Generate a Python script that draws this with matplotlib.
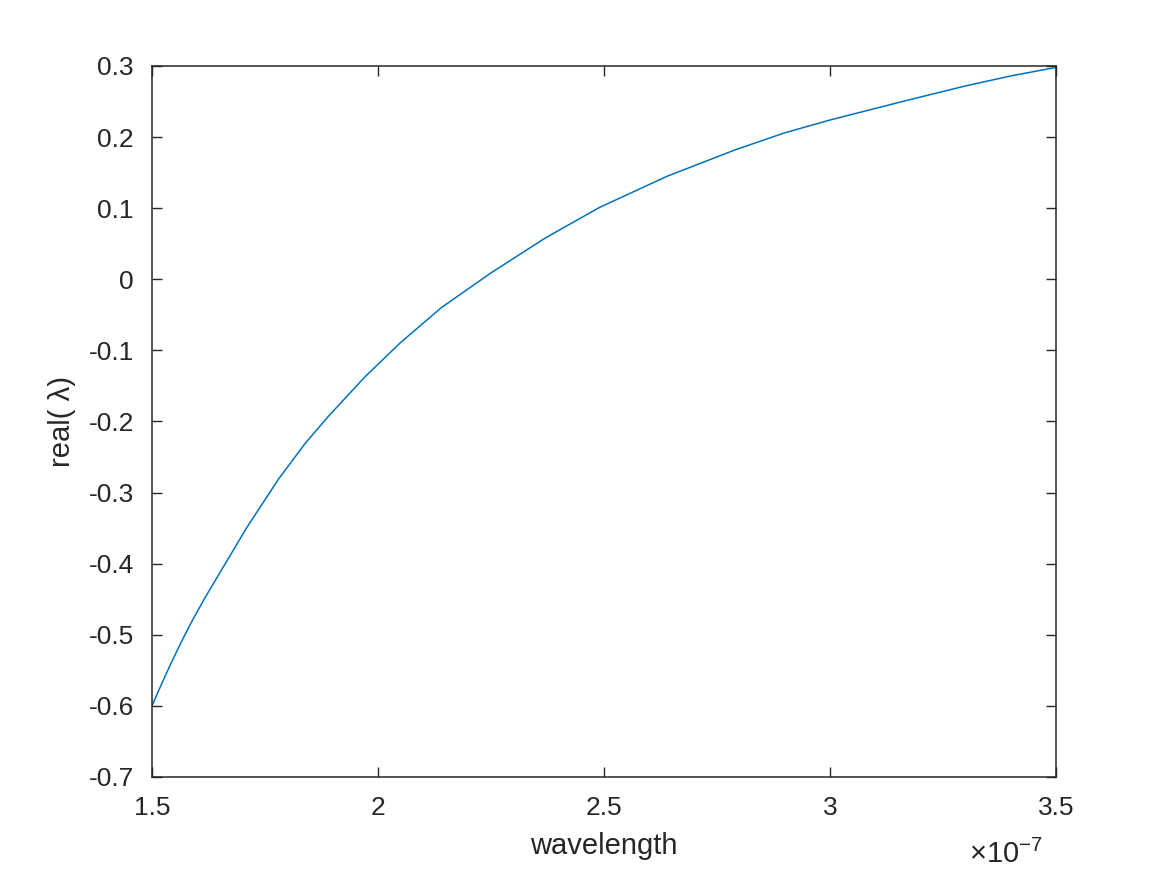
import matplotlib
matplotlib.use("Agg")
import matplotlib.pyplot as plt
from matplotlib.ticker import FuncFormatter, FixedLocator

plt.rcParams['font.family'] = ['Liberation Sans', 'DejaVu Sans']
plt.rcParams['mathtext.fontset'] = 'custom'
plt.rcParams['mathtext.rm'] = 'Liberation Sans'

# data (wavelength in units of 1e-7 m)
wavelength_e7 = [1.50, 1.52, 1.54, 1.565, 1.59, 1.62, 1.65, 1.71, 1.78, 1.84, 1.89, 1.97,
                 2.05, 2.14, 2.25, 2.37, 2.49, 2.64, 2.79, 2.90, 3.00, 3.16, 3.30, 3.40, 3.50]
real_lambda = [-0.600, -0.571, -0.543, -0.510, -0.479, -0.445, -0.413, -0.349, -0.281,
               -0.230, -0.193, -0.138, -0.089, -0.040, 0.009, 0.058, 0.101, 0.145, 0.182,
               0.206, 0.224, 0.250, 0.272, 0.286, 0.298]
xticks_e7 = [1.5, 2, 2.5, 3, 3.5]
yticks = [-0.7, -0.6, -0.5, -0.4, -0.3, -0.2, -0.1, 0, 0.1, 0.2, 0.3]

wl = [v * 1e-7 for v in wavelength_e7]

fig = plt.figure(figsize=(11.67, 8.75), dpi=100)
ax = fig.add_axes([0.1302, 0.112, 0.7747, 0.8126])
ax.plot(wl, real_lambda, color='#0072BD', linewidth=1.1)

ax.set_xlim(1.5e-7, 3.5e-7)
ax.set_ylim(-0.7, 0.3)
ax.xaxis.set_major_locator(FixedLocator([t * 1e-7 for t in xticks_e7]))
ax.xaxis.set_major_formatter(FuncFormatter(lambda v, p: f"{v/1e-7:g}"))
ax.yaxis.set_major_locator(FixedLocator(yticks))
ax.yaxis.set_major_formatter(FuncFormatter(lambda v, p: f"{v:g}" if abs(v) > 1e-9 else "0"))

axc = '#262626'
for s in ax.spines.values():
    s.set_color(axc)
    s.set_linewidth(1.1)
ax.tick_params(direction='in', length=7, width=1.0, colors=axc, labelsize=19,
               top=True, right=True)
ax.tick_params(axis='y', pad=13)
ax.tick_params(axis='x', pad=13.5)

ax.set_xlabel('wavelength', fontsize=21, color=axc, labelpad=8.5)
ax.set_ylabel('real( λ)', fontsize=21, color=axc, labelpad=9)

ax.text(0.9856, -0.109, r'$\times$10$^{\mathregular{-7}}$', transform=ax.transAxes,
        ha='right', va='center', fontsize=21, color=axc)

fig.savefig('out.png', dpi=100, facecolor='white')
